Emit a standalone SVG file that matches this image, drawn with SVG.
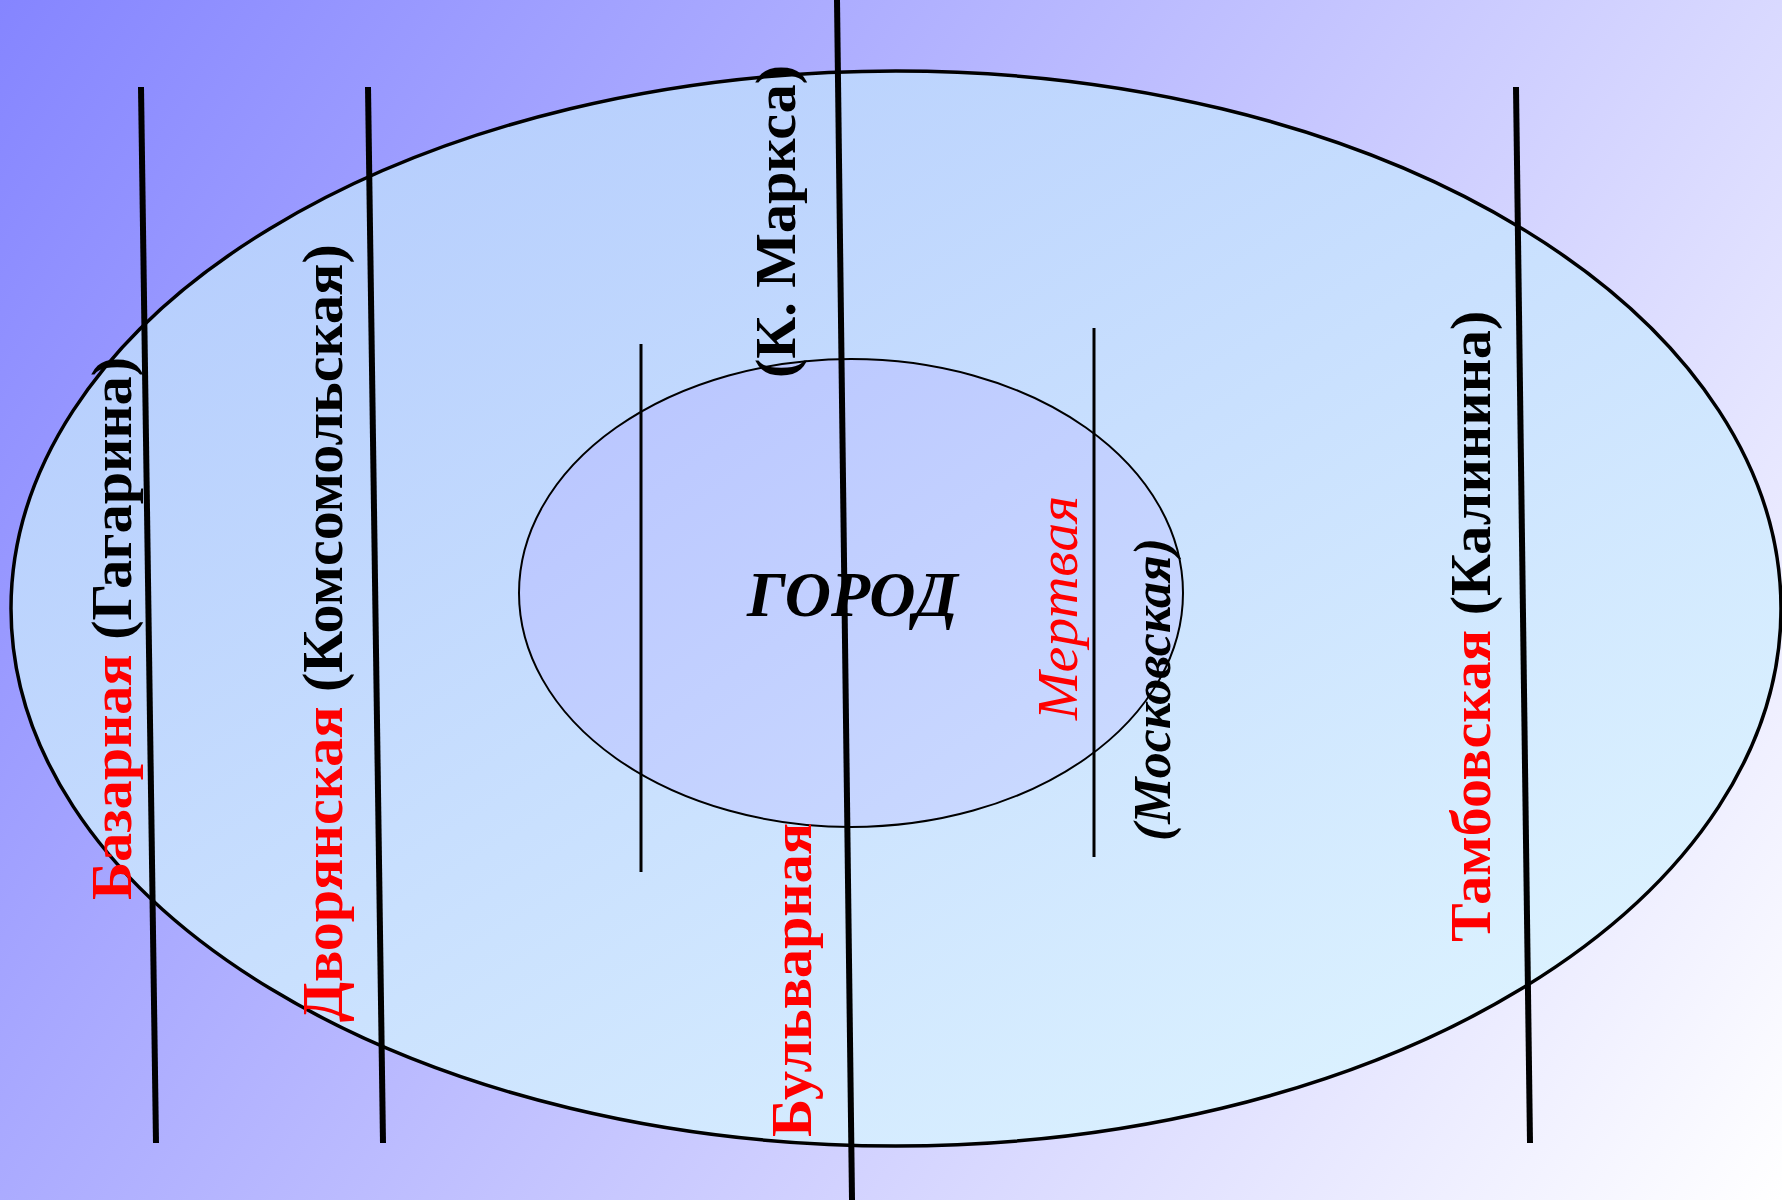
<svg xmlns="http://www.w3.org/2000/svg" width="1782" height="1200" viewBox="0 0 1782 1200">
  <defs>
    <linearGradient id="bg" gradientUnits="userSpaceOnUse" x1="0" y1="0" x2="1782" y2="1200">
      <stop offset="0" stop-color="#8585ff"/>
      <stop offset="1" stop-color="#ffffff"/>
    </linearGradient>
    <linearGradient id="outerFill" x1="0" y1="0" x2="1" y2="1">
      <stop offset="0" stop-color="#b0c8fd"/>
      <stop offset="1" stop-color="#e2f8ff"/>
    </linearGradient>
    <linearGradient id="innerFill" x1="0" y1="0" x2="1" y2="1">
      <stop offset="0" stop-color="#b8c4ff"/>
      <stop offset="1" stop-color="#ccdcff"/>
    </linearGradient>
    <style>
      .street { stroke: #000; stroke-width: 6; fill: none; }
      .thin { stroke: #000; stroke-width: 3; fill: none; }
      .lbl { font-family: "Liberation Serif", "Times New Roman", serif; font-size: 58px; font-weight: bold; }
      .red { fill: #ff0000; }
      .blk { fill: #000; }
    </style>
  </defs>

  <rect x="0" y="0" width="1782" height="1200" fill="url(#bg)"/>

  <g id="outer-city">
    <ellipse cx="896" cy="608.5" rx="885" ry="537.5" fill="url(#outerFill)" stroke="#000" stroke-width="3.5"/>
  </g>
  <g id="inner-city">
    <ellipse cx="851" cy="593" rx="332" ry="234" fill="url(#innerFill)" stroke="#000" stroke-width="2"/>
  </g>

  <g id="connectors">
    <line class="street" x1="141" y1="87" x2="156" y2="1143"/>
    <line class="street" x1="368" y1="87" x2="383" y2="1143"/>
    <line class="street" x1="837" y1="0" x2="852" y2="1200"/>
    <line class="street" x1="1516" y1="87" x2="1530" y2="1143"/>
    <line class="thin" x1="641" y1="344" x2="641" y2="872"/>
    <line class="thin" x1="1094" y1="328" x2="1094" y2="857"/>
  </g>

  <g id="label-bazarnaya">
    <text class="lbl" transform="translate(131,900) rotate(-90)"><tspan class="red">Базарная</tspan><tspan class="blk"> (Гагарина)</tspan></text>
  </g>
  <g id="label-dvoryanskaya">
    <text class="lbl" transform="translate(342,1022) rotate(-90)"><tspan class="red">Дворянская</tspan><tspan class="blk"> (Комсомольская)</tspan></text>
  </g>
  <g id="label-bulvarnaya">
    <text class="lbl red" transform="translate(811,1137) rotate(-90)">Бульварная</text>
  </g>
  <g id="label-marksa">
    <text class="lbl blk" transform="translate(795,378) rotate(-90)">(К. Маркса)</text>
  </g>
  <g id="label-tambovskaya">
    <text class="lbl" transform="translate(1490,942) rotate(-90)"><tspan class="red">Тамбовская</tspan><tspan class="blk"> (Калинина)</tspan></text>
  </g>
  <g id="label-mertvaya">
    <text transform="translate(1077,720) rotate(-90)" font-family="Liberation Serif, Times New Roman, serif" font-size="58" font-style="italic" fill="#ff0000">Мертвая</text>
  </g>
  <g id="label-moskovskaya">
    <text transform="translate(1170,841) rotate(-90)" font-family="Liberation Serif, Times New Roman, serif" font-size="52" font-style="italic" font-weight="bold" fill="#000">(Московская)</text>
  </g>
  <g id="label-gorod">
    <text x="747" y="616" font-family="Liberation Serif, Times New Roman, serif" font-size="64" font-style="italic" font-weight="bold" fill="#000">ГОРОД</text>
  </g>
</svg>
